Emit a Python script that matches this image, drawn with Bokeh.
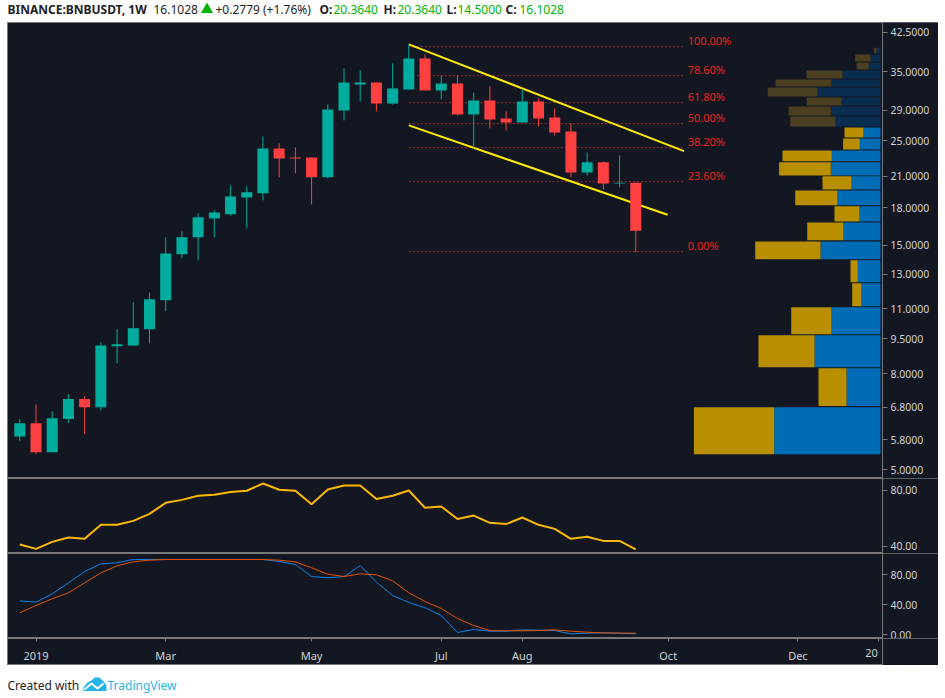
from bokeh.core.properties import value
from bokeh.embed import file_html
from bokeh.layouts import column
from bokeh.models import (ColumnDataSource, FixedTicker, LinearAxis,
                          NumeralTickFormatter, Range1d)
from bokeh.plotting import figure
from bokeh.resources import INLINE

# ---------- data ----------
opens = [5.89, 6.28, 5.45, 6.41, 7.07, 6.79, 9.15, 9.19, 9.94, 11.46, 14.35, 15.59, 17.10,
         17.44, 18.95, 19.33, 24.08, 23.04, 23.04, 20.90, 28.99, 32.92, 33.24, 30.00, 32.12,
         37.37, 31.97, 33.08, 28.43, 30.44, 27.88, 27.34, 30.29, 28.01, 26.16, 21.41, 22.49,
         20.29, 20.364]
highs = [6.41, 6.89, 6.66, 7.24, 7.17, 9.33, 9.94, 11.35, 11.91, 15.59, 16.05, 17.53, 17.78,
         20.10, 20.00, 25.53, 24.67, 24.19, 23.04, 29.85, 35.59, 35.25, 33.24, 36.47, 40.03,
         38.11, 34.40, 34.40, 31.65, 32.60, 28.85, 32.12, 30.74, 29.28, 27.21, 23.61, 22.60,
         23.27, 20.364]
lows = [5.75, 5.40, 5.45, 6.28, 5.95, 6.69, 8.42, 9.19, 9.28, 10.86, 14.07, 13.93, 15.59,
        17.35, 16.29, 18.68, 20.90, 21.31, 18.31, 20.80, 27.61, 30.29, 28.85, 29.85, 32.12,
        31.97, 30.59, 28.29, 24.08, 26.55, 26.29, 27.34, 26.81, 25.66, 20.90, 21.10, 19.70,
        19.90, 14.50]
closes = [6.28, 5.45, 6.44, 7.07, 6.79, 9.19, 9.24, 9.99, 11.51, 14.41, 15.59, 17.19, 17.61,
          19.04, 19.42, 24.08, 22.93, 22.93, 20.90, 29.13, 33.24, 33.24, 30.00, 32.28, 37.37,
          31.97, 33.08, 28.43, 30.44, 27.74, 27.34, 30.29, 27.88, 26.04, 21.41, 22.49, 20.29,
          20.364, 16.1028]

rsi = [41.4, 38.3, 43.3, 46.4, 45.5, 55.5, 55.5, 58.3, 63.3, 71.2, 73.3, 76.2, 76.9, 79.0,
       79.8, 85.0, 80.5, 79.8, 70.2, 80.7, 83.6, 83.6, 74.0, 76.2, 80.0, 67.6, 68.6, 59.7,
       62.1, 56.9, 56.0, 60.7, 55.5, 52.6, 45.5, 46.9, 44.0, 44.0, 37.9]
stoch_k = [44.9, 43.1, 54.2, 68.9, 84.0, 94.2, 95.6, 100, 100, 100, 100, 100, 100, 100, 100,
           100, 97.3, 93.3, 77.3, 75.6, 77.3, 92.0, 69.8, 52.0, 42.7, 35.6, 25.3, 2.7, 6.7,
           4.4, 4.4, 6.2, 5.8, 5.3, 0.9, 1.8, 2.2, 1.8, 0.9]
stoch_d = [28.9, 38.7, 47.6, 55.6, 68.9, 82.2, 91.6, 96.9, 99.1, 100, 100, 100, 100, 100, 100,
           100, 99.1, 96.9, 88.9, 80.4, 77.3, 80.9, 79.6, 71.6, 55.6, 44.0, 34.7, 21.3, 12.0,
           5.3, 4.9, 4.9, 5.3, 6.2, 4.4, 3.1, 2.2, 1.8, 1.8]

fib_labels = ["100.00%", "78.60%", "61.80%", "50.00%", "38.20%", "23.60%", "0.00%"]
fib_prices = [39.57, 34.35, 30.10, 27.17, 24.16, 20.46, 14.53]
fib_start_week = 24
fib_end_week = 40.9
fib_label_week = 41.2

channel_upper_weeks = [24, 40.98]
channel_upper_prices = [40.03, 23.76]
channel_lower_weeks = [24, 39.96]
channel_lower_prices = [26.94, 17.41]

profile_low = [38.36, 36.83, 35.42, 33.90, 32.60, 31.04, 29.71, 28.29, 26.81, 25.41, 23.96,
               22.60, 21.10, 19.70, 18.23, 16.85, 15.36, 14.00, 12.51, 11.13, 9.71, 8.26, 6.83, 5.40]
profile_high = [39.38, 38.11, 36.65, 35.25, 33.73, 32.44, 30.89, 29.56, 28.15, 26.68, 25.28,
                23.84, 22.49, 21.00, 19.61, 18.14, 16.77, 15.28, 13.93, 12.45, 11.07, 9.66, 8.22, 6.79]
profile_up = [4, 10, 11.7, 38, 49, 63, 39, 49.7, 45, 17, 20.7, 48.7, 49.7, 29, 43, 21, 37, 60,
              22.7, 19, 49, 66, 34, 106.3]
profile_down = [2.7, 15.3, 12.3, 36, 56, 49.7, 34.7, 42.3, 45.3, 19, 16.7, 49.3, 51.7, 29, 42.3,
                25, 36.3, 65.3, 7.3, 9.3, 40.3, 56, 28, 80.3]
profile_dimmed = [True] * 9 + [False] * 15

price_ticks = [5, 5.8, 6.8, 8, 9.5, 11, 13, 15, 18, 21, 25, 29, 35, 42.5]
rsi_ticks = [40, 80]
stoch_ticks = [0, 40, 80]
time_tick_weeks = [1, 9, 18, 26, 31, 40, 48, 53]
time_tick_labels = ["2019", "Mar", "May", "Jul", "Aug", "Oct", "Dec", ""]
last_time_label = "20"

# ---------- styling ----------
BG = "#131722"
LINE = "#787878"
TEXT = "#d0d2d6"
UP = "#00ac9e"
DOWN = "#ff4040"
FONT = "Noto Sans"
FRAME_W = 875
WIDTH = 931
RIGHT = 56

x_range = Range1d(-0.759, 53.22)
weeks = list(range(len(opens)))


def pane(height, y_range, y_axis_type="linear", ticks=None, fmt=None):
    p = figure(frame_width=FRAME_W, frame_height=height, x_range=x_range, y_range=y_range,
               y_axis_type=y_axis_type, y_axis_location="right", x_axis_location=None,
               toolbar_location=None, output_backend="svg", min_border_left=0, min_border_top=0,
               min_border_bottom=0, min_border_right=RIGHT, background_fill_color=BG,
               border_fill_color=BG, outline_line_color=LINE, outline_line_width=1,
               styles={"outline": f"1px solid {LINE}", "outline-offset": "-1px"})
    p.grid.visible = False
    ax = p.yaxis[0]
    ax.ticker = FixedTicker(ticks=ticks)
    ax.formatter = NumeralTickFormatter(format=fmt)
    ax.axis_line_color = LINE
    ax.major_tick_line_color = LINE
    ax.major_tick_in = 0
    ax.major_tick_out = 5
    ax.minor_tick_line_color = None
    ax.major_label_standoff = 3
    ax.major_label_text_color = TEXT
    ax.major_label_text_font = FONT
    ax.major_label_text_font_size = "10.5px"
    return p


# ---------- main price pane ----------
p1 = pane(456, Range1d(4.794, 44.56), "log", price_ticks, "0.0000")
p1.extra_x_ranges = {"vol": Range1d(873, -2)}

prof = ColumnDataSource(dict(
    low=profile_low, high=profile_high,
    up=profile_up,
    total=[u + d for u, d in zip(profile_up, profile_down)],
    zero=[0] * len(profile_up),
    up_color=["#0a2d50" if d else "#006cb5" for d in profile_dimmed],
    down_color=["#4a3f20" if d else "#b98f00" for d in profile_dimmed],
))
p1.quad(left="zero", right="up", bottom="low", top="high", source=prof, x_range_name="vol",
        fill_color="up_color", line_color=None)
p1.quad(left="up", right="total", bottom="low", top="high", source=prof, x_range_name="vol",
        fill_color="down_color", line_color=None)

for level in fib_prices:
    p1.line([fib_start_week, fib_end_week], [level, level], line_color="#a02c30", line_width=1,
            line_dash=[2, 2])
p1.text(x=[fib_label_week] * len(fib_prices), y=fib_prices, text=fib_labels,
        text_color="#e8211c", text_font=value(FONT), text_font_size="11px", text_baseline="middle",
        text_align="left", y_offset=-6)

p1.line(channel_upper_weeks, channel_upper_prices, line_color="#ffeb00", line_width=2)
p1.line(channel_lower_weeks, channel_lower_prices, line_color="#ffeb00", line_width=2)

candles = ColumnDataSource(dict(
    x=weeks, o=opens, h=highs, l=lows, c=closes,
    top=[max(a, b) for a, b in zip(opens, closes)],
    bot=[min(a, b) for a, b in zip(opens, closes)],
    color=[UP if c >= o else DOWN for o, c in zip(opens, closes)],
))
p1.segment(x0="x", x1="x", y0="l", y1="h", source=candles, line_color="color", line_width=1)
p1.vbar(x="x", width=0.68, top="top", bottom="bot", source=candles, fill_color="color",
        line_color=None)

# ---------- RSI ----------
p2 = pane(75, Range1d(35, 88.57), "linear", rsi_ticks, "0.00")
p2.line(weeks, rsi, line_color="#ffb800", line_width=2)

# ---------- Stochastic ----------
p3 = pane(85, Range1d(-5.33, 108), "linear", stoch_ticks, "0.00")
p3.line(weeks, stoch_k, line_color="#0a84e8", line_width=1)
p3.line(weeks, stoch_d, line_color="#e65100", line_width=1)

# ---------- time axis ----------
p4 = figure(frame_width=FRAME_W, frame_height=27, x_range=x_range, y_range=Range1d(0, 1),
            x_axis_location=None, y_axis_location=None, toolbar_location=None,
            output_backend="svg", min_border_left=0, min_border_top=0, min_border_bottom=0,
            min_border_right=RIGHT, background_fill_color=BG, border_fill_color=BG,
            outline_line_color=LINE,
            styles={"outline": f"1px solid {LINE}", "outline-offset": "-1px"})
p4.grid.visible = False
time_axis = LinearAxis(fixed_location=1, ticker=FixedTicker(ticks=time_tick_weeks),
                       major_label_overrides=dict(zip(time_tick_weeks, time_tick_labels)))
time_axis.axis_line_color = LINE
time_axis.major_tick_line_color = LINE
time_axis.major_tick_in = 0
time_axis.major_tick_out = 3
time_axis.minor_tick_line_color = None
time_axis.major_label_standoff = 6
time_axis.major_label_text_color = TEXT
time_axis.major_label_text_font = FONT
time_axis.major_label_text_font_size = "11px"
p4.add_layout(time_axis, "below")
p4.text(x=[time_tick_weeks[-1] - 0.46], y=[0.46], text=[last_time_label], text_color=TEXT,
        text_font=value(FONT), text_font_size="11px", text_align="center", text_baseline="middle")


def white_strip(height):
    s = figure(frame_width=WIDTH, frame_height=height, x_range=Range1d(7, 7 + WIDTH),
               y_range=Range1d(height, 0), x_axis_location=None, y_axis_location=None,
               toolbar_location=None, output_backend="svg", min_border=0,
               background_fill_color="white", border_fill_color="white",
               outline_line_color=None)
    s.grid.visible = False
    return s


# ---------- header ----------
DARK = "#1e2126"
GREEN = "#00b300"
header = white_strip(22)
header_parts = [
    ("BINANCE:BNBUSDT, 1W", 7, DARK, "bold"), ("16.1028", 153, DARK, "normal"),
    ("+0.2779 (+1.76%)", 215, DARK, "normal"),
    ("O:", 319, DARK, "bold"), ("20.3640", 333, GREEN, "normal"),
    ("H:", 383, DARK, "bold"), ("20.3640", 397, GREEN, "normal"),
    ("L:", 446, DARK, "bold"), ("14.5000", 457, GREEN, "normal"),
    ("C:", 505, DARK, "bold"), ("16.1028", 519, GREEN, "normal"),
]
for txt, px, col, style in header_parts:
    header.text(x=[px], y=[9], text=[txt], text_color=col, text_font=value(FONT),
                text_font_size="12px", text_font_style=style, text_baseline="middle")
header.scatter([206.5], [9], marker="triangle", size=12, fill_color=GREEN, line_color=None)

# ---------- footer ----------
footer = white_strip(32)
footer.text(x=[7], y=[20], text=["Created with"], text_color=DARK, text_font=value(FONT),
            text_font_size="12px", text_baseline="middle")
footer.text(x=[107], y=[20], text=["TradingView"], text_color="#25b4e8", text_font=value(FONT),
            text_font_size="12px", text_baseline="middle")
logo_x = [83, 83, 87, 91, 94, 99, 103, 106, 106]
logo_y = [25.5, 22, 17, 15, 12, 12, 16, 20, 25.5]
zig_x = [84, 91, 97, 103]
zig_y = [24, 18, 23, 18]
footer.patch(logo_x, logo_y, fill_color="#25b4e8", line_color=None)
footer.line(zig_x, zig_y, line_color="white", line_width=2)

page = column(header, p1, p2, p3, p4, footer, spacing=0, margin=(0, 0, 0, 7))
open("out.html", "w").write(file_html(page, INLINE))
